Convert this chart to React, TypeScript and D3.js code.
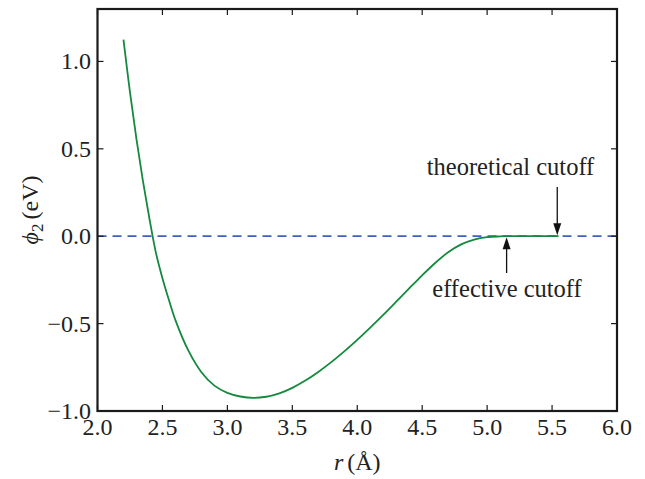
import React from "react";
import * as d3 from "d3";

const rValues = [2.2, 2.25, 2.3, 2.35, 2.4, 2.45, 2.5, 2.55, 2.6, 2.7, 2.8, 2.9, 3.0, 3.1, 3.2, 3.3, 3.4, 3.5, 3.6, 3.7, 3.8, 3.9, 4.0, 4.1, 4.2, 4.3, 4.4, 4.5, 4.6, 4.7, 4.8, 4.9, 5.0, 5.1, 5.15, 5.3, 5.45, 5.55];
const phiValues = [1.125, 0.825, 0.555, 0.315, 0.1, -0.095, -0.24, -0.365, -0.48, -0.655, -0.778, -0.855, -0.896, -0.917, -0.925, -0.9185, -0.899, -0.8675, -0.826, -0.7765, -0.7205, -0.659, -0.593, -0.523, -0.45, -0.3745, -0.2985, -0.2235, -0.153, -0.092, -0.047, -0.019, -0.005, -0.001, 0.0, 0.0, 0.0, 0.0];
const xTicks = [2.0, 2.5, 3.0, 3.5, 4.0, 4.5, 5.0, 5.5, 6.0];
const yTicks = [-1.0, -0.5, 0.0, 0.5, 1.0];
const theoreticalCutoff = 5.54;
const effectiveCutoff = 5.15;

const W = 645, H = 479;
const L = 97.5, R = 617, T = 9, B = 411;
const FONT = "Liberation Serif, DejaVu Serif, Times New Roman, serif";

export default function App() {
  const x = d3.scaleLinear().domain([2, 6]).range([L, R]);
  const y = d3.scaleLinear().domain([-1, 1.3]).range([B, T]);
  const data = rValues.map((r, i) => [r, phiValues[i]] as [number, number]);
  const line = d3.line<[number, number]>().x(d => x(d[0])).y(d => y(d[1])).curve(d3.curveCatmullRom.alpha(0.5));
  const fmt = (v: number) => (v < 0 ? "\u2212" : "") + Math.abs(v).toFixed(1);
  const tick = 6;
  const axisColor = "#1a1a1a";
  const textColor = "#222";
  const ts = { fontFamily: FONT };

  const tx = x(theoreticalCutoff), ex = x(effectiveCutoff), y0 = y(0);

  return (
    <svg width={W} height={H} style={{ position: "absolute", left: 0, top: 0, background: "#fff" }}>
      <defs>
        <clipPath id="plot"><rect x={L} y={T} width={R - L} height={B - T} /></clipPath>
      </defs>
      <g clipPath="url(#plot)">
        <line x1={L} x2={R} y1={y0} y2={y0} stroke="#3d5fc6" strokeWidth={1.8} strokeDasharray="9,6" />
        <path d={line(data) || ""} fill="none" stroke="#138a3d" strokeWidth={1.8} />
      </g>
      {xTicks.map(t => (
        <g key={"x" + t}>
          <line x1={x(t)} x2={x(t)} y1={B} y2={B - tick} stroke={axisColor} strokeWidth={1.2} />
          <line x1={x(t)} x2={x(t)} y1={T} y2={T + tick} stroke={axisColor} strokeWidth={1.2} />
          <text x={x(t)} y={435} textAnchor="middle" style={ts} fontSize={24} fill={textColor}>{t.toFixed(1)}</text>
        </g>
      ))}
      {yTicks.map(t => (
        <g key={"y" + t}>
          <line x1={L} x2={L + tick} y1={y(t)} y2={y(t)} stroke={axisColor} strokeWidth={1.2} />
          <line x1={R} x2={R - tick} y1={y(t)} y2={y(t)} stroke={axisColor} strokeWidth={1.2} />
          <text x={91} y={y(t) + 8} textAnchor="end" style={ts} fontSize={24} fill={textColor}>{fmt(t)}</text>
        </g>
      ))}
      <rect x={L} y={T} width={R - L} height={B - T} fill="none" stroke={axisColor} strokeWidth={2.2} />
      <text x={(L + R) / 2} y={470} textAnchor="middle" style={ts} fontSize={24} fill={textColor}>
        <tspan fontStyle="italic">r</tspan>
        <tspan dx={4}>(Å)</tspan>
      </text>
      <text transform={`translate(38, ${(T + B) / 2}) rotate(-90)`} textAnchor="middle" style={ts} fontSize={24} fill={textColor}>
        <tspan fontStyle="italic">ϕ</tspan>
        <tspan fontSize={17} dy={5}>2</tspan>
        <tspan dy={-5} dx={4}>(eV)</tspan>
      </text>
      <text x={510.5} y={175} textAnchor="middle" style={ts} fontSize={24.5} fill={textColor}>theoretical cutoff</text>
      <line x1={tx} x2={tx} y1={187} y2={y0 - 12} stroke="#111" strokeWidth={1.3} />
      <path d={`M${tx - 4},${y0 - 13} L${tx + 4},${y0 - 13} L${tx},${y0 - 1} Z`} fill="#111" />
      <text x={507} y={297} textAnchor="middle" style={ts} fontSize={24.5} fill={textColor}>effective cutoff</text>
      <line x1={ex} x2={ex} y1={273} y2={y0 + 12} stroke="#111" strokeWidth={1.3} />
      <path d={`M${ex - 4},${y0 + 13} L${ex + 4},${y0 + 13} L${ex},${y0 + 1} Z`} fill="#111" />
    </svg>
  );
}
